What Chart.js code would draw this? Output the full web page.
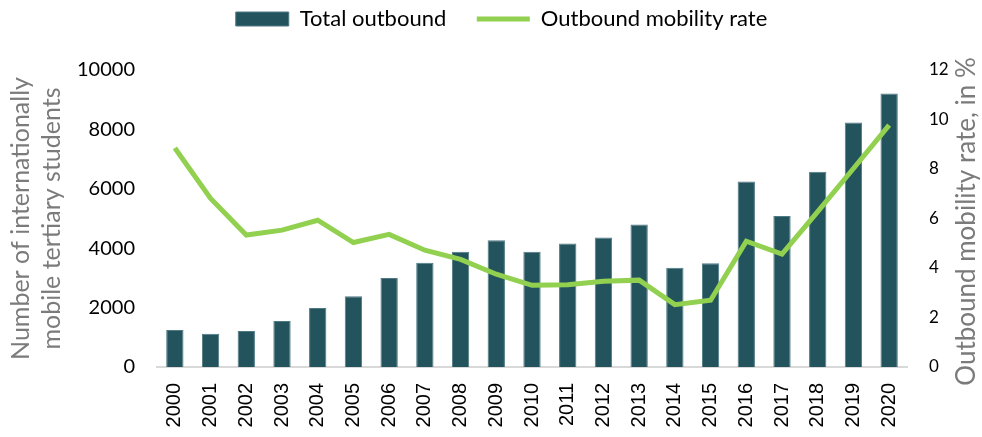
<!DOCTYPE html>
<html>
<head>
<meta charset="utf-8">
<script src="https://cdn.jsdelivr.net/npm/chart.js@4"></script>
<style>
  html, body { margin: 0; padding: 0; background: #fff; }
  #wrap { width: 982px; height: 437px; }
</style>
</head>
<body>
<div id="wrap"><canvas id="chart"></canvas></div>
<script>
// Years on the x axis
const years = ['2000', '2001', '2002', '2003', '2004', '2005', '2006', '2007', '2008', '2009', '2010',
  '2011', '2012', '2013', '2014', '2015', '2016', '2017', '2018', '2019', '2020'];

// Number of internationally mobile tertiary students (bars, left axis)
const totalOutbound = [1250, 1120, 1210, 1550, 1990, 2380, 3000, 3510, 3880, 4270, 3880,
  4160, 4360, 4800, 3340, 3490, 6250, 5080, 6570, 8230, 9210];

// Outbound mobility rate in % (line, right axis)
const mobilityRate = [8.85, 6.81, 5.33, 5.53, 5.93, 5.03, 5.36, 4.72, 4.35, 3.75, 3.30,
  3.32, 3.46, 3.51, 2.52, 2.70, 5.08, 4.56, 6.28, 8.02, 9.77];

const leftTitle = ['Number of internationally', 'mobile tertiary students'];
const rightTitle = 'Outbound mobility rate, in %';

const barColor = '#23545e';
const lineColor = '#92d050';
const titleGray = '#7b7b7b';
const calibriLike = 'Lato, "Open Sans", sans-serif';
const arialLike = '"Liberation Sans", Arial, sans-serif';

// legend sits in a fixed 70px band at the top, nudged a bit right
const legendBand = {
  id: 'legendBand',
  afterInit(chart) {
    const legend = chart.legend;
    const fit = legend.fit;
    legend.fit = function () {
      fit.call(this);
      this.height = 70;
    };
  },
  afterLayout(chart) {
    chart.legend.left += 21;
  }
};

// draws the right axis title reading bottom to top, like the original
const rightTitlePlugin = {
  id: 'rightTitle',
  afterDraw(chart) {
    const ctx = chart.ctx;
    const area = chart.chartArea;
    ctx.save();
    ctx.translate(967, (area.top + area.bottom) / 2 + 3);
    ctx.rotate(-Math.PI / 2);
    ctx.fillStyle = titleGray;
    ctx.font = '26px ' + calibriLike;
    ctx.textAlign = 'center';
    ctx.textBaseline = 'middle';
    ctx.fillText(rightTitle, 0, 0);
    ctx.restore();
  }
};

new Chart(document.getElementById('chart'), {
  type: 'bar',
  data: {
    labels: years,
    datasets: [{
      type: 'line',
      label: 'Outbound mobility rate',
      data: mobilityRate,
      yAxisID: 'yRate',
      borderColor: lineColor,
      backgroundColor: lineColor,
      borderWidth: 5,
      pointRadius: 0,
      pointStyle: 'line',
      tension: 0,
      order: 0
    }, {
      label: 'Total outbound',
      data: totalOutbound,
      yAxisID: 'yCount',
      backgroundColor: barColor,
      borderColor: '#4f7a84',
      borderWidth: 1,
      pointStyle: 'rect',
      barPercentage: 0.97,
      categoryPercentage: 0.5,
      order: 1
    }]
  },
  options: {
    responsive: true,
    maintainAspectRatio: false,
    animation: false,
    layout: { padding: 0 },
    plugins: {
      tooltip: { enabled: false },
      legend: {
        position: 'top',
        reverse: true,
        labels: {
          usePointStyle: true,
          pointStyleWidth: 53,
          boxHeight: 14,
          padding: 8,
          color: '#000',
          font: { family: calibriLike, size: 22 },
          generateLabels(chart) {
            const items = Chart.defaults.plugins.legend.labels.generateLabels(chart);
            items.forEach(it => {
              if (it.text === 'Total outbound') it.text += '    ';
            });
            return items;
          }
        }
      }
    },
    scales: {
      x: {
        grid: { display: false, drawTicks: false },
        border: { display: true, color: '#d9d9d9', width: 2 },
        ticks: {
          color: '#000',
          font: { family: arialLike, size: 20 },
          minRotation: 90,
          maxRotation: 90,
          padding: 16
        },
        afterFit(scale) { scale.height = 70; }
      },
      yCount: {
        position: 'left',
        min: 0,
        max: 10000,
        grid: { display: false, drawTicks: false },
        border: { display: false },
        ticks: {
          stepSize: 2000,
          color: '#000',
          font: { family: calibriLike, size: 20 },
          padding: 22,
          callback: v => String(v)
        },
        title: {
          display: true,
          text: leftTitle,
          color: titleGray,
          font: { family: calibriLike, size: 25, lineHeight: 1.25 },
          padding: { top: 5, bottom: 0 }
        },
        afterFit(scale) { scale.width = 157; }
      },
      yRate: {
        position: 'right',
        min: 0,
        max: 12,
        grid: { display: false, drawTicks: false },
        border: { display: false },
        ticks: {
          stepSize: 2,
          color: '#000',
          font: { family: calibriLike, size: 17 },
          padding: 22
        },
        afterFit(scale) { scale.width = 75; }
      }
    }
  },
  plugins: [legendBand, rightTitlePlugin]
});
</script>
</body>
</html>
